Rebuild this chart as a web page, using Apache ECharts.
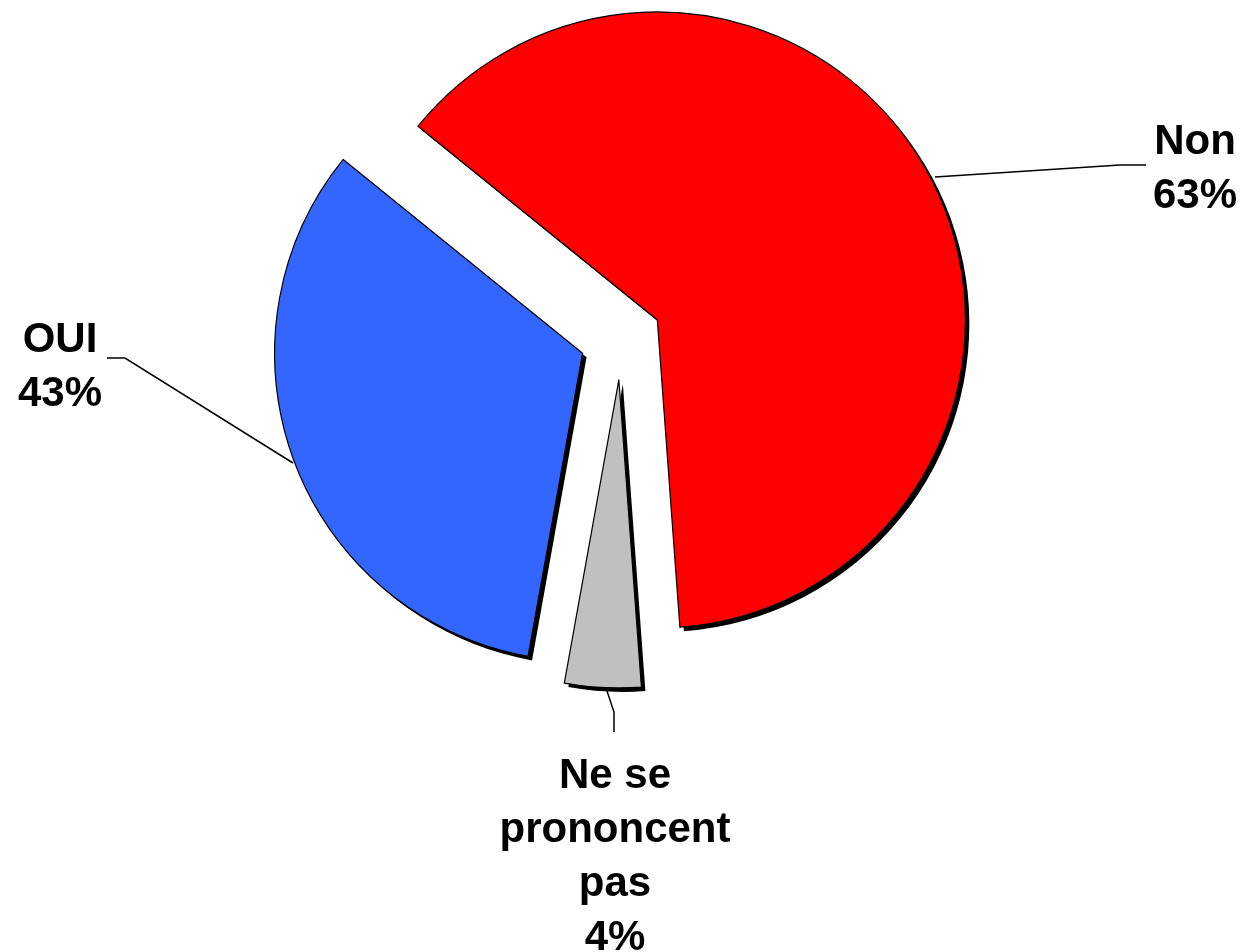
<!DOCTYPE html>
<html>
<head>
<meta charset="utf-8">
<script src="https://cdn.jsdelivr.net/npm/echarts@6/dist/echarts.min.js"></script>
<style>
html,body{margin:0;padding:0;background:#fff;}
#main{width:1245px;height:952px;}
</style>
</head>
<body>
<div id="main"></div>
<script>
// categories, clockwise from the top-left
var categories = ['Non', 'Ne se\nprononcent\npas', 'OUI'];
var values = [63, 4, 33];            // slice sizes
var pctLabels = ['63%', '4%', '43%']; // percentages as printed on the chart
var colors = ['#ff0000', '#c0c0c0', '#3366ff'];

var myChart = echarts.init(document.getElementById('main'));

var baseCenter = [621, 339];
var radius = 308;
var startAngle = 141;
var explode = 41;     // every slice pulled out by the same distance
var shadowOff = 4;

// where each label block sits and how its leader line runs
var labelPos = [
	{x: 1195, y: 169, line: [[935, 177], [1120, 165], [1146, 165]]},
	{x: 615, y: 857, line: [[606, 688], [614, 712], [614, 732]]},
	{x: 60, y: 367, line: [[293, 463], [125, 358], [107, 358]]}
];

var total = 0;
for (var i = 0; i < values.length; i++) total += values[i];

var series = [];
var cum = 0;
for (var i = 0; i < values.length; i++) {
	// mid angle of slice i, to push it outward
	var mid = (startAngle - (cum + values[i] / 2) / total * 360) * Math.PI / 180;
	cum += values[i];
	var cx = baseCenter[0] + Math.cos(mid) * explode;
	var cy = baseCenter[1] - Math.sin(mid) * explode;

	var shadowData = [], mainData = [];
	for (var j = 0; j < values.length; j++) {
		var on = (j === i);
		shadowData.push({
			name: categories[j],
			value: values[j],
			itemStyle: {color: on ? '#000' : 'rgba(0,0,0,0)'}
		});
		mainData.push({
			name: categories[j],
			value: values[j],
			itemStyle: on ? {color: colors[j], borderColor: '#000', borderWidth: 1.2}
			              : {color: 'rgba(0,0,0,0)', borderWidth: 0},
			label: {show: on},
			labelLine: {show: on}
		});
	}

	// drop shadow
	series.push({
		type: 'pie',
		z: 1,
		silent: true,
		center: [cx + shadowOff, cy + shadowOff],
		radius: radius,
		startAngle: startAngle,
		clockwise: true,
		label: {show: false},
		labelLine: {show: false},
		data: shadowData
	});

	series.push({
		type: 'pie',
		z: 2,
		center: [cx, cy],
		radius: radius,
		startAngle: startAngle,
		clockwise: true,
		avoidLabelOverlap: false,
		data: mainData,
		label: {
			formatter: function (p) {
				return p.name + '\n' + pctLabels[p.dataIndex];
			},
			color: '#000',
			fontFamily: 'Liberation Sans, Arial, sans-serif',
			fontWeight: 'bold',
			fontSize: 42,
			lineHeight: 54,
			align: 'center'
		},
		labelLine: {
			lineStyle: {color: '#000', width: 1.5}
		},
		labelLayout: function (params) {
			var p = labelPos[params.dataIndex];
			return {
				x: p.x,
				y: p.y,
				align: 'center',
				verticalAlign: 'middle',
				labelLinePoints: p.line
			};
		},
		emphasis: {disabled: true}
	});
}

var option = {
	animation: false,
	series: series
};

myChart.setOption(option);
</script>
</body>
</html>
